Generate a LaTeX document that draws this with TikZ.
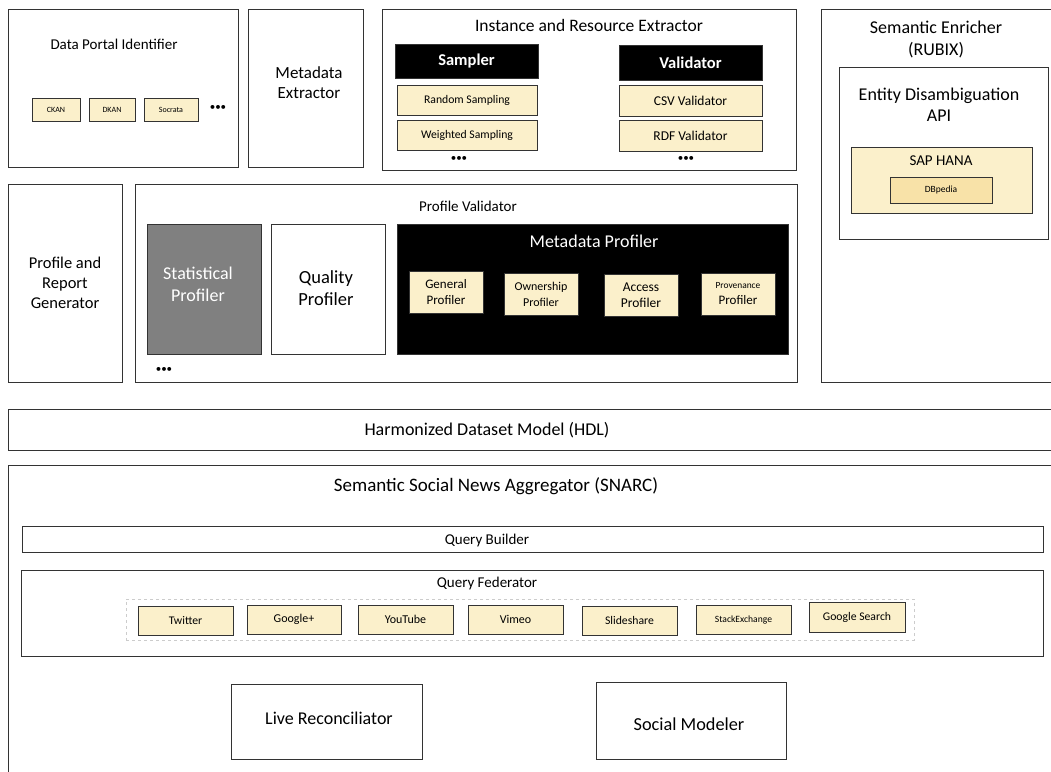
\documentclass[tikz,border=0pt]{standalone}
\usepackage{fontspec}
\setmainfont{Carlito}
\usetikzlibrary{backgrounds}

\definecolor{cream}{HTML}{FBF0CB}
\definecolor{wheat}{HTML}{F8E2A8}
\definecolor{edge}{HTML}{333333}

\tikzset{
  box/.style={draw=edge, line width=0.9pt, inner sep=0pt, align=center},
  item/.style={box, fill=cream},
  dark/.style={box, fill=black, text=white},
  caption/.style={inner sep=0pt, align=center},
  more/.style={caption, font=\fontsize{11}{11}\selectfont},
}

\begin{document}
\begin{tikzpicture}[x=1pt, y=-1pt,
    background rectangle/.style={fill=white},
    show background rectangle]
    \useasboundingbox (0,0) rectangle (1051,771);

    % Data portal identifier with its portals
    \node[box, minimum width=230pt, minimum height=158pt] (portal) at (123,88) {};
    \node[caption, font=\fontsize{15}{17}\selectfont] (portal-title) at (114,44) {Data Portal Identifier};
    \node[item, minimum width=48pt, minimum height=23pt, font=\fontsize{8}{9}\selectfont] (ckan) at (56,109.5) {CKAN};
    \node[item, minimum width=46pt, minimum height=23pt, font=\fontsize{8}{9}\selectfont] (dkan) at (112,109.5) {DKAN};
    \node[item, minimum width=54pt, minimum height=23pt, font=\fontsize{8}{9}\selectfont] (socrata) at (171,109.5) {Socrata};
    \node[more] (portal-more) at (218,108) {\textbullet\textbullet\textbullet};

    % Metadata extractor
    \node[box, minimum width=115pt, minimum height=158pt] (meta) at (305.5,88) {};
    \node[caption, font=\fontsize{17}{20}\selectfont] (meta-title) at (309,83) {Metadata\\Extractor};

    % Instance and resource extractor
    \node[box, minimum width=414pt, minimum height=161pt] (instance) at (589,89.5) {};
    \node[caption, font=\fontsize{17.5}{19}\selectfont] (instance-title) at (589,25) {Instance and Resource Extractor};
    \node[dark, minimum width=143pt, minimum height=34pt, font=\bfseries\fontsize{16.5}{18}\selectfont] (sampler) at (466.5,61) {Sampler};
    \node[item, minimum width=140pt, minimum height=30pt, font=\fontsize{11.7}{13}\selectfont] (random) at (467,100) {Random Sampling};
    \node[item, minimum width=140pt, minimum height=30pt, font=\fontsize{11.7}{13}\selectfont] (weighted) at (467,135) {Weighted Sampling};
    \node[more] (sampler-more) at (459,159) {\textbullet\textbullet\textbullet};
    \node[dark, minimum width=143pt, minimum height=35pt, font=\bfseries\fontsize{16.5}{18}\selectfont] (validator) at (690.5,62.5) {Validator};
    \node[item, minimum width=143pt, minimum height=31pt, font=\fontsize{13.5}{15}\selectfont] (csv) at (690.5,100.5) {CSV Validator};
    \node[item, minimum width=143pt, minimum height=31pt, font=\fontsize{13.5}{15}\selectfont] (rdf) at (690.5,135.5) {RDF Validator};
    \node[more] (validator-more) at (686,159) {\textbullet\textbullet\textbullet};

    % Semantic enricher
    \node[box, minimum width=234pt, minimum height=373pt] (rubix) at (938,195.5) {};
    \node[caption, font=\fontsize{18}{22}\selectfont] (rubix-title) at (936,39) {Semantic Enricher\\(RUBIX)};
    \node[box, minimum width=209pt, minimum height=172pt] (api) at (943.5,153) {};
    \node[caption, font=\fontsize{18}{21}\selectfont] (api-title) at (939,105) {Entity Disambiguation\\API};
    \node[item, minimum width=181pt, minimum height=66pt] (hana) at (941.5,180) {};
    \node[caption, font=\fontsize{15}{17}\selectfont] (hana-title) at (941,161) {SAP HANA};
    \node[box, fill=wheat, minimum width=102pt, minimum height=26pt, font=\fontsize{9.5}{11}\selectfont] (dbpedia) at (941,190) {DBpedia};

    % Profile and report generator
    \node[box, minimum width=114pt, minimum height=198pt, font=\fontsize{16.5}{20}\selectfont] (report) at (65,283) {Profile and\\Report\\Generator};

    % Profile validator with its profilers
    \node[box, minimum width=662pt, minimum height=198pt] (validatorbox) at (466,283) {};
    \node[caption, font=\fontsize{15}{17}\selectfont] (validatorbox-title) at (468,206) {Profile Validator};
    \node[box, fill=black!50, minimum width=114pt, minimum height=130pt] (statistical) at (204,289) {};
    \node[caption, text=white, font=\fontsize{18}{22}\selectfont] (statistical-title) at (198,284) {Statistical\\Profiler};
    \node[box, minimum width=114pt, minimum height=130pt] (quality) at (328,289) {};
    \node[caption, font=\fontsize{18.5}{22}\selectfont] (quality-title) at (326,288) {Quality\\Profiler};
    \node[more] (profiler-more) at (164,370) {\textbullet\textbullet\textbullet};

    % Metadata profiler
    \node[dark, minimum width=391pt, minimum height=130pt] (metaprof) at (592.5,289) {};
    \node[caption, text=white, font=\fontsize{18}{20}\selectfont] (metaprof-title) at (594,241) {Metadata Profiler};
    \node[item, minimum width=74pt, minimum height=42pt, font=\fontsize{13}{16}\selectfont] (general) at (446,292) {General\\Profiler};
    \node[item, minimum width=74pt, minimum height=42pt, font=\fontsize{12}{16}\selectfont] (ownership) at (541,294) {Ownership\\Profiler};
    \node[item, minimum width=74pt, minimum height=42pt, font=\fontsize{13.5}{16}\selectfont] (access) at (641,295) {Access\\Profiler};
    \node[item, minimum width=74pt, minimum height=42pt, font=\fontsize{13}{16}\selectfont] (provenance) at (738,294) {{\fontsize{9.4}{11}\selectfont Provenance}\\Profiler};

    % Harmonized dataset model
    \node[box, minimum width=1047pt, minimum height=41pt] (hdl) at (531.5,429.5) {};
    \node[caption, font=\fontsize{18}{20}\selectfont] (hdl-title) at (487,430) {Harmonized Dataset Model (HDL)};

    % Semantic social news aggregator
    \node[box, minimum width=1047pt, minimum height=310pt] (snarc) at (531.5,620) {};
    \node[caption, font=\fontsize{19}{21}\selectfont] (snarc-title) at (496,486) {Semantic Social News Aggregator (SNARC)};
    \node[box, minimum width=1021pt, minimum height=26pt] (builder) at (532.5,539) {};
    \node[caption, font=\fontsize{15}{17}\selectfont] (builder-title) at (487,540) {Query Builder};
    \node[box, minimum width=1022pt, minimum height=86pt] (federator) at (532,613) {};
    \node[caption, font=\fontsize{15}{17}\selectfont] (federator-title) at (487,583) {Query Federator};
    \node[draw=black!20, dashed, line width=0.8pt, minimum width=788pt, minimum height=41pt, inner sep=0pt] (sources) at (520,619.5) {};

    % Social sources
    \node[item, minimum width=95pt, minimum height=29pt, font=\fontsize{11.7}{13}\selectfont] (twitter) at (185.5,620.5) {Twitter};
    \node[item, minimum width=94pt, minimum height=29pt, font=\fontsize{12}{13}\selectfont] (googleplus) at (294,619.5) {Google+};
    \node[item, minimum width=95pt, minimum height=29pt, font=\fontsize{12}{13}\selectfont] (youtube) at (405.5,619.5) {YouTube};
    \node[item, minimum width=95pt, minimum height=29pt, font=\fontsize{12}{13}\selectfont] (vimeo) at (515.5,619.5) {Vimeo};
    \node[item, minimum width=95pt, minimum height=29pt, font=\fontsize{11.7}{13}\selectfont] (slideshare) at (629.5,620.5) {Slideshare};
    \node[item, minimum width=95pt, minimum height=29pt, font=\fontsize{9.6}{11}\selectfont] (stackexchange) at (743.5,619.5) {StackExchange};
    \node[item, minimum width=96pt, minimum height=30pt, font=\fontsize{11.7}{13}\selectfont] (googlesearch) at (857,617) {Google Search};

    % Reconciliator and modeler
    \node[box, minimum width=191pt, minimum height=75pt] (reconciliator) at (326.5,721.5) {};
    \node[caption, font=\fontsize{18}{20}\selectfont] (reconciliator-title) at (329,718) {Live Reconciliator};
    \node[box, minimum width=190pt, minimum height=77pt] (modeler) at (691,720.5) {};
    \node[caption, font=\fontsize{18.3}{20}\selectfont] (modeler-title) at (689,724) {Social Modeler};
\end{tikzpicture}
\end{document}
